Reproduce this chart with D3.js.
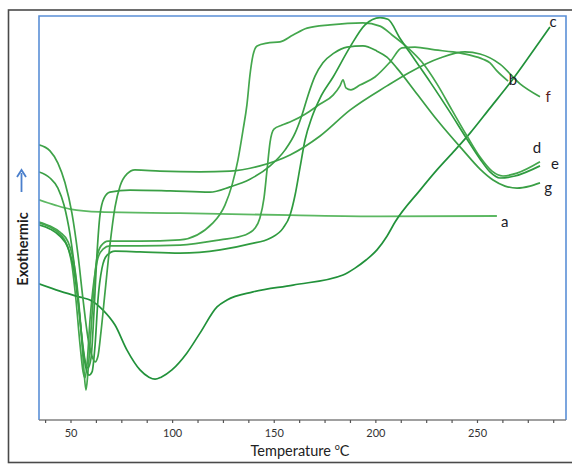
<!DOCTYPE html>
<html>
<head>
<meta charset="utf-8">
<script src="https://cdn.jsdelivr.net/npm/d3@7/dist/d3.min.js"></script>
<style>
  html, body { margin: 0; padding: 0; background: #fff; }
  svg { display: block; }
</style>
</head>
<body>
<svg id="chart" width="572" height="464"></svg>
<script>
// ---- Data (temperature °C, heat flow in arbitrary units 0–100) ----
const seriesNames = ["a", "b", "c", "d", "e", "f", "g"];

const curveA_T = [34.5, 42.4, 49.8, 64.5, 103.9, 158.0, 202.3, 259.8];
const curveA_V = [54.5, 53.2, 52.2, 51.5, 51.2, 50.7, 50.4, 50.5];

const curveB_T = [34.5, 39.9, 44.8, 48.3, 50.7, 52.7, 54.7, 56.2, 57.1, 58.1, 59.6, 61.6, 63.5, 66.0, 69.4, 84.2, 103.9, 123.6, 135.9, 140.8, 143.2, 145.2, 146.7, 148.2, 150.1, 154.1, 159.0, 165.4, 172.8, 179.2, 182.6, 184.1, 185.5, 188.0, 192.4, 199.8, 207.2, 213.1, 219.5, 229.3, 238.2, 246.6, 253.0, 256.4, 259.8, 265.3];
const curveB_V = [48.8, 47.8, 46.0, 43.3, 38.4, 29.7, 18.6, 11.9, 10.4, 13.6, 24.8, 34.7, 40.1, 42.3, 43.1, 43.1, 43.3, 44.6, 45.8, 47.5, 50.0, 54.9, 61.9, 68.8, 72.0, 73.0, 74.0, 75.7, 78.2, 80.4, 82.7, 84.2, 82.2, 81.7, 82.9, 84.9, 88.6, 92.1, 92.3, 91.6, 91.1, 90.3, 89.3, 88.4, 86.4, 83.9];

const curveC_T = [34.5, 44.8, 54.7, 59.6, 66.0, 71.9, 77.8, 84.2, 88.6, 91.6, 94.6, 99.9, 107.3, 113.7, 122.1, 127.0, 139.8, 159.5, 184.1, 190.0, 195.4, 200.8, 205.7, 209.7, 222.0, 230.3, 239.2, 246.6, 256.4, 266.2, 276.1, 285.9];
const curveC_V = [33.7, 31.9, 30.4, 29.7, 27.2, 23.5, 17.3, 12.4, 10.6, 10.1, 10.6, 12.4, 16.6, 21.5, 28.0, 29.7, 31.7, 33.4, 35.9, 37.6, 39.6, 42.1, 45.5, 49.0, 56.9, 61.9, 66.8, 71.0, 77.2, 83.4, 90.3, 97.3];

const curveD_T = [34.5, 39.9, 44.8, 48.8, 51.2, 53.2, 55.2, 56.6, 57.6, 58.6, 60.1, 61.6, 63.0, 65.0, 68.5, 84.2, 103.9, 120.1, 126.0, 129.5, 132.4, 134.9, 136.8, 138.3, 139.8, 141.8, 146.7, 153.1, 159.5, 166.4, 177.7, 193.9, 202.3, 208.2, 215.6, 222.9, 230.3, 237.7, 245.1, 251.5, 257.4, 262.8, 269.7, 281.0];
const curveD_V = [49.0, 48.0, 46.5, 44.1, 40.1, 33.4, 22.3, 12.4, 7.4, 11.9, 22.3, 33.4, 40.1, 43.1, 44.3, 44.3, 44.6, 48.8, 53.2, 58.2, 64.4, 71.8, 78.0, 85.4, 90.3, 92.6, 93.3, 93.6, 95.3, 97.0, 97.8, 98.3, 97.5, 95.3, 92.3, 88.6, 83.2, 76.7, 70.3, 65.1, 61.6, 60.4, 61.1, 63.9];

const curveE_T = [34.5, 39.9, 44.8, 48.8, 51.7, 54.2, 56.2, 57.6, 59.1, 60.6, 62.1, 63.5, 65.5, 68.0, 71.9, 84.2, 103.9, 123.6, 138.3, 148.2, 154.6, 158.0, 160.5, 162.9, 165.4, 168.8, 172.8, 179.2, 187.5, 194.9, 202.3, 206.2, 212.1, 219.5, 226.9, 236.7, 245.1, 251.5, 256.4, 261.3, 268.7, 281.0];
const curveE_V = [48.3, 47.3, 45.5, 42.6, 37.1, 27.2, 17.3, 12.9, 11.1, 11.9, 18.6, 29.7, 37.6, 40.8, 41.8, 41.6, 41.3, 42.1, 43.6, 45.0, 47.5, 50.7, 55.7, 62.4, 69.3, 75.0, 79.7, 84.9, 92.3, 97.8, 99.6, 99.2, 94.5, 89.1, 83.7, 76.2, 69.5, 64.6, 61.4, 59.9, 60.4, 62.9];

const curveF_T = [34.5, 39.9, 43.8, 47.3, 50.7, 53.7, 56.2, 58.6, 60.6, 62.1, 63.5, 65.0, 67.0, 69.4, 71.9, 74.4, 77.8, 81.7, 94.0, 113.7, 128.5, 143.2, 158.0, 172.8, 187.5, 205.7, 217.0, 231.8, 244.1, 251.5, 261.3, 271.2, 281.0];
const curveF_V = [68.1, 66.6, 63.6, 58.7, 51.2, 40.8, 29.7, 20.3, 15.8, 14.4, 15.8, 21.8, 31.7, 43.3, 52.7, 57.9, 60.9, 61.9, 61.6, 61.4, 61.6, 62.9, 65.6, 70.3, 76.7, 82.7, 86.1, 89.6, 91.1, 90.6, 88.1, 83.2, 80.0];

const curveG_T = [34.5, 39.9, 43.8, 46.8, 49.8, 52.7, 55.2, 57.1, 58.6, 60.1, 61.6, 63.0, 64.5, 66.5, 69.4, 79.3, 99.0, 118.6, 128.5, 138.3, 148.2, 155.5, 160.5, 163.9, 166.9, 170.3, 174.2, 179.6, 186.0, 193.9, 200.8, 205.7, 210.6, 220.5, 230.8, 243.1, 251.5, 257.9, 263.8, 269.7, 276.1, 281.0];
const curveG_V = [61.4, 59.9, 57.4, 53.2, 45.8, 34.7, 22.3, 14.9, 12.9, 15.3, 27.2, 40.8, 50.7, 54.9, 56.4, 56.9, 56.7, 56.4, 57.7, 59.6, 62.9, 66.8, 71.0, 75.5, 80.4, 85.1, 88.4, 90.8, 92.3, 92.6, 91.3, 89.8, 87.1, 80.7, 74.0, 66.8, 62.1, 59.4, 57.9, 57.4, 57.9, 58.7];

// curve label anchor points (temperature, heat flow)
const labelT = [263.7, 267.7, 287.4, 279.5, 288.4, 285.0, 285.0];
const labelV = [49.0, 84.2, 98.5, 67.3, 63.4, 79.9, 57.4];

const xTickValues = [37.5, 50, 62.5, 75, 87.5, 100, 112.5, 125, 137.5, 150, 162.5, 175, 187.5, 200, 212.5, 225, 237.5, 250, 262.5, 275, 287.5];
const xTickLabels = [50, 100, 150, 200, 250];

// ---- Chart ----
const svg = d3.select("#chart");
const pLeft = 39, pRight = 566, pTop = 16, pBottom = 420;

const x = d3.scaleLinear().domain([34.5, 293.8]).range([pLeft, pRight]);
const y = d3.scaleLinear().domain([0, 100]).range([pBottom, pTop]);

// outer frame
svg.append("rect")
  .attr("x", 8.5).attr("y", 10).attr("width", 572).attr("height", 452.5)
  .attr("fill", "none").attr("stroke", "#4a4a4a").attr("stroke-width", 1.6);

svg.append("defs").append("clipPath").attr("id", "plotclip")
  .append("rect").attr("x", pLeft).attr("y", pTop).attr("width", pRight - pLeft).attr("height", pBottom - pTop);

const series = [
  {T: curveA_T, V: curveA_V, color: "#5cb862", w: 1.8},
  {T: curveB_T, V: curveB_V, color: "#43a64c", w: 1.7},
  {T: curveC_T, V: curveC_V, color: "#21913a", w: 1.7},
  {T: curveD_T, V: curveD_V, color: "#44a74d", w: 1.7},
  {T: curveE_T, V: curveE_V, color: "#2f9b3f", w: 1.7},
  {T: curveF_T, V: curveF_V, color: "#3ea248", w: 1.7},
  {T: curveG_T, V: curveG_V, color: "#3a9f45", w: 1.7}
];

const line = d3.line()
  .x(d => x(d[0])).y(d => y(d[1]))
  .curve(d3.curveMonotoneX);

const g = svg.append("g").attr("clip-path", "url(#plotclip)");
series.forEach(s => {
  const pts = s.T.map((t, i) => [t, s.V[i]]);
  g.append("path").datum(pts)
    .attr("d", line)
    .attr("fill", "none")
    .attr("stroke", s.color)
    .attr("stroke-width", s.w)
    .attr("stroke-linejoin", "round");
});

// plot frame (blue left/top/right)
svg.append("path")
  .attr("d", `M${pLeft},${pBottom}V${pTop}H${pRight}V${pBottom}`)
  .attr("fill", "none").attr("stroke", "#5a8fd6").attr("stroke-width", 1.6);

// x axis
const xAxis = d3.axisBottom(x)
  .tickValues(xTickValues)
  .tickSize(3)
  .tickFormat(d => xTickLabels.includes(d) ? d : "");
const ax = svg.append("g").attr("transform", `translate(0,${pBottom})`).call(xAxis);
ax.select(".domain").attr("d", `M${pLeft},0H${pRight}`).attr("stroke", "#808080").attr("stroke-width", 1.4);
ax.selectAll(".tick line").attr("stroke", "#555").attr("stroke-width", 1.2);
ax.selectAll(".tick text")
  .attr("font-family", "Lato, 'Open Sans', sans-serif")
  .attr("font-size", 11)
  .attr("fill", "#333")
  .attr("dy", "1.0em");

// x title
const xt = svg.append("text")
  .attr("x", 300).attr("y", 456)
  .attr("text-anchor", "middle")
  .attr("font-family", "Lato, 'Open Sans', sans-serif")
  .attr("font-size", 14.5)
  .attr("fill", "#222");
xt.append("tspan").text("Temperature ");
xt.append("tspan").attr("font-size", 9).attr("dy", -6).text("o");
xt.append("tspan").attr("dy", 6).text("C");

// y title
svg.append("text")
  .attr("transform", "translate(28,249) rotate(-90)")
  .attr("text-anchor", "middle")
  .attr("font-family", "Lato, 'Open Sans', sans-serif")
  .attr("font-size", 14.5)
  .attr("font-weight", 700)
  .attr("fill", "#1e1e1e")
  .text("Exothermic");

// up arrow
svg.append("path")
  .attr("d", "M21.5,192V173")
  .attr("stroke", "#4a7fcc").attr("stroke-width", 1.8).attr("fill", "none");
svg.append("path")
  .attr("d", "M17,177L21.5,170L26,177")
  .attr("stroke", "#4a7fcc").attr("stroke-width", 1.8).attr("fill", "none");

// curve labels
svg.append("g").selectAll("text")
  .data(seriesNames)
  .join("text")
  .attr("x", (d, i) => x(labelT[i]))
  .attr("y", (d, i) => y(labelV[i]))
  .attr("dy", "0.35em")
  .attr("text-anchor", "middle")
  .attr("font-family", "Lato, 'Open Sans', sans-serif")
  .attr("font-size", 15)
  .attr("fill", d => d === "f" ? "#5a1d1d" : "#1c1c28")
  .text(d => d);
</script>
</body>
</html>
